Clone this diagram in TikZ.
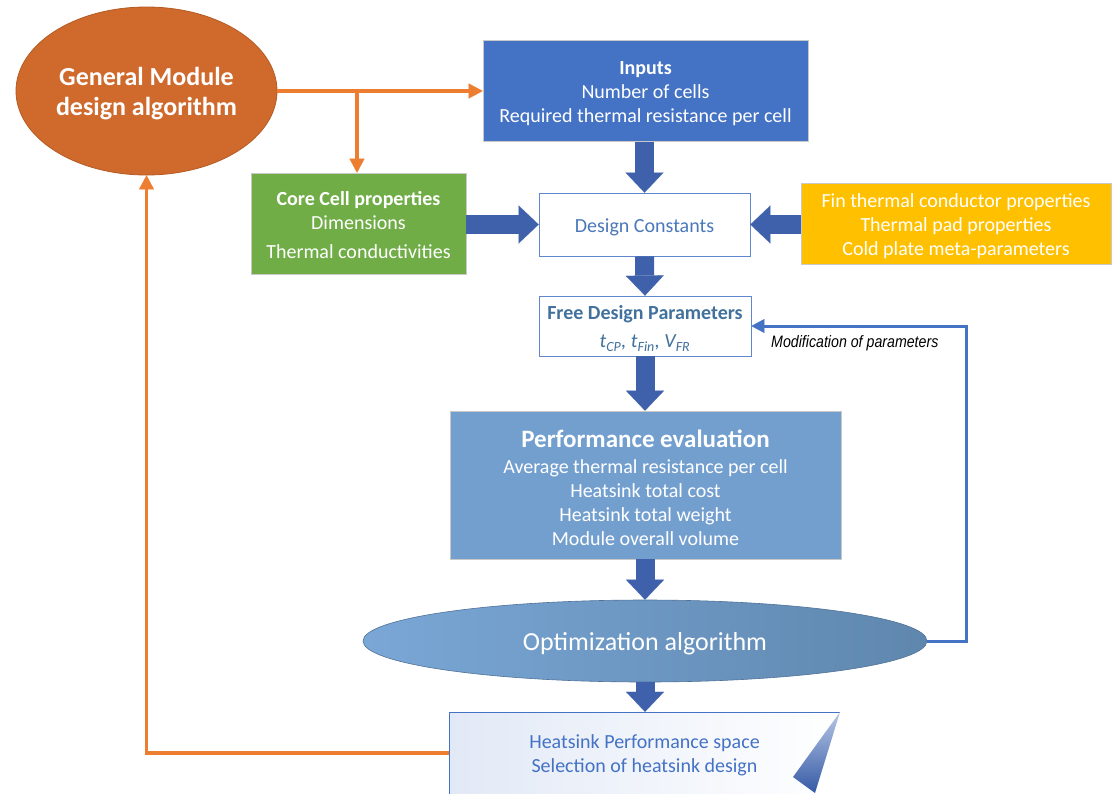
\documentclass[tikz,border=0pt]{standalone}
\usepackage{fontspec}
\setmainfont{Carlito}
\newfontfamily\notefont{Liberation Sans}
\usetikzlibrary{arrows.meta,shapes.geometric}

\definecolor{gmorange}{HTML}{CF6A2C}
\definecolor{gmedge}{HTML}{B45A22}
\definecolor{linkorange}{HTML}{ED7D31}
\definecolor{inblue}{HTML}{4472C4}
\definecolor{cellgreen}{HTML}{70AD47}
\definecolor{finyellow}{HTML}{FFC000}
\definecolor{fatblue}{HTML}{3F61AB}
\definecolor{framegray}{HTML}{C9C9C9}
\definecolor{dctext}{HTML}{4A78BA}
\definecolor{fdptext}{HTML}{41719C}
\definecolor{perfblue}{HTML}{739FCF}
\definecolor{optleft}{HTML}{7AA7D6}
\definecolor{optright}{HTML}{5F87AE}
\definecolor{optedge}{HTML}{4F7299}
\definecolor{hsleft}{HTML}{E2E9F6}
\definecolor{foldlight}{HTML}{B7C8E6}
\definecolor{folddark}{HTML}{3559A5}

\tikzset{
  panel/.style={rectangle, inner sep=0pt},
  words/.style={inner sep=0pt, align=center, yshift=-2.5pt,
    font=\fontsize{20}{24}\selectfont},
  fatarrow/.style={draw=fatblue, line width=19pt,
    -{Triangle[width=38pt,length=20pt,line width=0.1pt]}},
  orangelink/.style={draw=linkorange, line width=3.4pt,
    -{Triangle[width=15pt,length=14pt,line width=0.1pt]}},
  bluelink/.style={draw=inblue, line width=3pt,
    -{Triangle[width=14pt,length=13pt,line width=0.1pt]}},
}

\begin{document}
\begin{tikzpicture}[x=1pt,y=-1pt]
\clip (0,0) rectangle (1118,793);
\fill[white] (0,0) rectangle (1118,793);

% top level module algorithm
\node[ellipse, fill=gmorange, draw=gmedge, line width=0.8pt,
      minimum width=261pt, minimum height=168pt, inner sep=0pt] (gm) at (146.5,91) {};
\node[words, text=white, font=\fontsize{26}{30}\selectfont\bfseries]
      (gmtext) at (gm) {General Module\\design algorithm};

% input blocks
\node[panel, fill=inblue, draw=framegray, line width=0.6pt,
      minimum width=325pt, minimum height=101pt] (inputs) at (645.5,91) {};
\node[words, text=white] (inputstext) at (inputs)
      {\textbf{Inputs}\\Number of cells\\Required thermal resistance per cell};
\node[panel, fill=cellgreen, draw=framegray, line width=0.6pt,
      minimum width=215pt, minimum height=101pt] (core) at (358.5,223.5) {};
\node[words, text=white, yshift=1pt] (coretext) at (core)
      {\textbf{Core Cell properties}\\Dimensions\\[5pt]Thermal conductivities};
\node[panel, fill=finyellow, draw=framegray, line width=0.6pt,
      minimum width=310pt, minimum height=81pt] (fin) at (956,223.5) {};
\node[words, text=white] (fintext) at (fin)
      {Fin thermal conductor properties\\Thermal pad properties\\Cold plate meta-parameters};

% design chain
\node[panel, fill=white, draw=inblue!85!white, line width=0.8pt,
      minimum width=211pt, minimum height=63pt] (dc) at (644.5,224.5) {};
\node[words, text=dctext] (dctext) at (dc) {Design Constants};
\node[panel, fill=white, draw=inblue!85!white, line width=0.8pt,
      minimum width=212pt, minimum height=60pt] (fdp) at (645,326) {};
\node[words, text=fdptext] (fdptext) at (fdp)
      {\textbf{Free Design Parameters}\\[4pt]\textit{t\textsubscript{CP}, t\textsubscript{Fin}, V\textsubscript{FR}}};
\node[panel, fill=perfblue, draw=framegray, line width=0.6pt,
      minimum width=391pt, minimum height=148pt] (perf) at (645.5,485) {};
\node[words, text=white] (perftext) at (perf)
      {{\fontsize{25}{28}\selectfont\bfseries Performance evaluation}\\[2pt]
       Average thermal resistance per cell\\Heatsink total cost\\
       Heatsink total weight\\Module overall volume};
\node[ellipse, left color=optleft, right color=optright, draw=optedge, line width=0.6pt,
      minimum width=564pt, minimum height=82pt, inner sep=0pt] (opt) at (645,641) {};
\node[words, text=white, font=\fontsize{26}{30}\selectfont] (opttext) at (opt)
      {Optimization algorithm};

% result page with folded corner
\shade[left color=hsleft, right color=white]
      (449,712) -- (840,712) -- (815,793) -- (815,800) -- (449,800) -- cycle;
\draw[inblue, line width=0.8pt] (449,800) -- (449,712) -- (840,712);
\shade[shading angle=35, top color=foldlight, bottom color=folddark]
      (840,712) -- (793,777) -- (815,793) -- cycle;
\node[panel, minimum width=391pt, minimum height=82pt] (hs) at (644.5,753) {};
\node[words, text=inblue] (hstext) at (hs)
      {Heatsink Performance space\\Selection of heatsink design};

% block arrows
\draw[fatarrow] (dc.north |- inputs.south) -- (dc.north);
\draw[fatarrow] (core.east |- dc.west) -- (dc.west);
\draw[fatarrow] (fin.west |- dc.east) -- (dc.east);
\draw[fatarrow] (dc.south) -- (fdp.north);
\draw[fatarrow] (fdp.south) -- (fdp.south |- perf.north);
\draw[fatarrow] (opt.north |- perf.south) -- (opt.north);
\draw[fatarrow] (opt.south) -- (opt.south |- hs.north);

% orange links
\coordinate (split) at (357,91);
\draw[orangelink] (gm.east) -- (inputs.west);
\draw[orangelink] (split) -- (split |- core.north);
\draw[orangelink] (hs.west) -- (hs.west -| gm.south) -- (gm.south);

% optimisation loop
\coordinate (loop) at (966,641);
\draw[bluelink] (opt.east) -- (loop) |- (fdp.east);
\node[anchor=west, inner sep=0pt, font=\notefont\fontsize{16.5}{18}\selectfont\itshape]
      (modlabel) at (771,343) {\scalebox{0.86}[1]{Modification of parameters}};

\end{tikzpicture}
\end{document}
